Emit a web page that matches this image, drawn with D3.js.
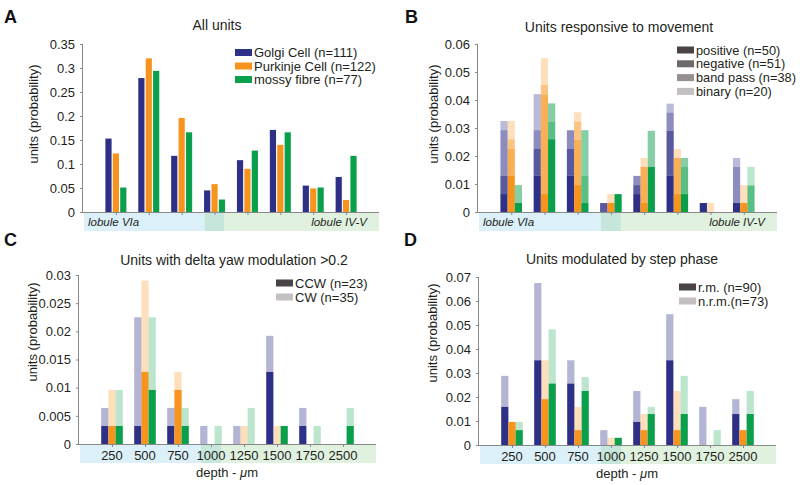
<!DOCTYPE html>
<html><head><meta charset="utf-8">
<script src="https://cdn.jsdelivr.net/npm/d3@7/dist/d3.min.js"></script>
<style>body{margin:0;background:#fff} svg{display:block;font-family:"Liberation Sans",Arial,sans-serif}</style>
</head><body><svg id="c" width="800" height="485"></svg>
<script>
// ---------- data ----------
const depthLabels = ["250","500","750","1000","1250","1500","1750","2500"];
const cellNames = ["Golgi Cell (n=111)","Purkinje Cell (n=122)","mossy fibre (n=77)"];
const cellColors = ["#2e3088","#f7941d","#0aa04b"];

// A: all units
const allGolgi    = [0.153,0.279,0.117,0.045,0.108,0.171,0.055,0.073];
const allPurkinje = [0.122,0.320,0.196,0.058,0.090,0.140,0.049,0.025];
const allMossy    = [0.051,0.294,0.166,0.026,0.128,0.166,0.051,0.117];

// B: responsive to movement (rows: Golgi, Purkinje, mossy)
const movLayerNames = ["positive (n=50)","negative (n=51)","band pass (n=38)","binary (n=20)"];
const movPositive = [
  [0.0064,0.0129,0.0129,0,0.0064,0.0129,0.0032,0.0032],
  [0.0129,0.0064,0.0096,0.0032,0.0032,0.0064,0,0.0032],
  [0.0032,0.0260,0.0032,0.0064,0.0161,0.0064,0,0]];
const movNegative = [
  [0.0065,0.0096,0.0096,0.0032,0.0032,0.0161,0,0],
  [0.0096,0.0356,0.0162,0,0.0129,0.0129,0,0],
  [0,0.0063,0.0097,0,0,0.0097,0,0.0095]];
const movBandPass = [
  [0.0163,0.0067,0.0067,0,0.0033,0.0065,0,0.0129],
  [0.0035,0.0034,0.0065,0,0,0,0,0],
  [0.0064,0.0065,0.0163,0,0.0129,0.0032,0,0]];
const movBinary = [
  [0.0033,0.0129,0,0,0,0.0032,0,0.0032],
  [0.0065,0.0095,0.0033,0.0032,0.0032,0.0032,0.0032,0.0064],
  [0,0,0,0,0,0,0,0.0066]];

// C: delta yaw modulation
const yawLayerNames = ["CCW (n=23)","CW (n=35)"];
const yawCCW = [
  [0.0032,0.0032,0.0032,0,0,0.0128,0.0032,0],
  [0.0032,0.0128,0.0096,0,0,0,0,0],
  [0.0032,0.0096,0.0032,0,0,0.0032,0,0.0032]];
const yawCW = [
  [0.0032,0.0193,0.0032,0.0032,0.0032,0.0064,0.0032,0],
  [0.0064,0.0162,0.0032,0,0.0032,0.0032,0,0],
  [0.0064,0.0129,0.0032,0.0032,0.0064,0,0.0032,0.0032]];

// D: step phase
const stepLayerNames = ["r.m. (n=90)","n.r.m.(n=73)"];
const stepRM = [
  [0.0159,0.0353,0.0256,0,0.0096,0.0353,0,0.0129],
  [0.0096,0.0191,0.0062,0,0.0062,0.0062,0,0.0062],
  [0.0062,0.0256,0.0225,0.0030,0.0129,0.0129,0,0.0129]];
const stepNRM = [
  [0.0129,0.0322,0.0097,0.0062,0.0129,0.0192,0.0159,0.0062],
  [0,0.0162,0.0097,0.0030,0.0067,0.0163,0,0],
  [0.0034,0.0226,0.0058,0,0.0030,0.0159,0.0062,0.0096]];

const ticksA = [0,0.05,0.1,0.15,0.2,0.25,0.3,0.35];
const ticksB = [0,0.01,0.02,0.03,0.04,0.05,0.06];
const ticksC = [0,0.005,0.01,0.015,0.02,0.025,0.03];
const ticksD = [0,0.01,0.02,0.03,0.04,0.05,0.06,0.07];

// ---------- drawing ----------
const svg = d3.select("#c");
const txt = "#231f20";
const fmt = d => String(+d.toFixed(4));

function panel(cfg) {
  const g = svg.append("g");
  const x = d3.scaleLinear().domain([0, 9]).range([cfg.x0, cfg.x1]);
  const y = d3.scaleLinear().domain([0, cfg.yMax]).range([cfg.y0, cfg.yTop]);
  const xc = x(4);
  const bands = [
    {a: cfg.x0 + 1, b: xc - 10, c: "#dcf0f9"},
    {a: xc - 10, b: xc + 10, c: "#c6e6dc"},
    {a: xc + 10, b: cfg.x1, c: "#e0f1df"}];
  g.selectAll("rect.band").data(bands).join("rect")
    .attr("x", d => d.a).attr("width", d => d.b - d.a)
    .attr("y", cfg.y0 + 1).attr("height", 18).attr("fill", d => d.c);

  cfg.layers.forEach((layer, li) => {
    layer.forEach((vals, si) => {
      vals.forEach((v, gi) => {
        if (v <= 0) return;
        let base = 0;
        for (let k = 0; k < li; k++) base += cfg.layers[k][si][gi];
        const cx = x(gi + 1) + (si - 1) * cfg.step;
        g.append("rect")
          .attr("x", cx - cfg.bw / 2).attr("width", cfg.bw)
          .attr("y", y(base + v)).attr("height", y(base) - y(base + v))
          .attr("fill", cellColors[si]).attr("fill-opacity", cfg.op[li][si]);
      });
    });
  });

  const ya = g.append("g").attr("transform", `translate(${cfg.x0},0)`)
    .call(d3.axisLeft(y).tickValues(cfg.ticks).tickFormat(fmt).tickSize(3).tickPadding(5));
  ya.select(".domain").attr("stroke", "#888").attr("d", `M-0.5,${cfg.y0}V${cfg.yTop}`);
  ya.selectAll(".tick line").attr("stroke", "#888");
  ya.selectAll("text").attr("fill", txt).style("font-size", "13px").style("font-family", "Liberation Sans, Arial, sans-serif");

  const xa = g.append("g").attr("transform", `translate(0,${cfg.y0})`)
    .call(d3.axisBottom(x).tickValues(d3.range(1, 9)).tickSize(3).tickFormat(""));
  xa.select(".domain").attr("stroke", "#888").attr("d", `M${cfg.x0},0.5H${cfg.x1}`);
  xa.selectAll(".tick line").attr("stroke", "#888");
  if (cfg.depthTicks) {
    g.selectAll("text.dl").data(depthLabels).join("text")
      .attr("x", (d, i) => x(i + 1)).attr("y", cfg.y0 + 16)
      .attr("text-anchor", "middle").attr("fill", txt).style("font-size", "13px").text(d => d);
    const t = g.append("text").attr("x", cfg.depthX).attr("y", cfg.y0 + 33)
      .attr("text-anchor", "middle").attr("fill", txt).style("font-size", "13px");
    t.append("tspan").text("depth - ");
    t.append("tspan").style("font-style", "italic").text("\u03bc");
    t.append("tspan").text("m");
  } else {
    g.append("text").attr("x", cfg.x0 + 5).attr("y", cfg.y0 + 14).attr("fill", txt)
      .style("font-size", "11.5px").style("font-style", "italic").text("lobule VIa");
    g.append("text").attr("x", cfg.x1 - 12).attr("y", cfg.y0 + 14).attr("fill", txt)
      .attr("text-anchor", "end").style("font-size", "11.5px").style("font-style", "italic").text("lobule IV-V");
  }

  g.append("text").attr("transform", `translate(${cfg.ylx},${cfg.yly}) rotate(-90)`)
    .attr("text-anchor", "middle").attr("dominant-baseline", "central")
    .attr("fill", txt).style("font-size", "13px").text("units (probability)");
  g.append("text").attr("x", cfg.tx).attr("y", cfg.ty).attr("text-anchor", "middle")
    .attr("fill", txt).style("font-size", "14px").text(cfg.title);
  g.append("text").attr("x", cfg.lx).attr("y", cfg.ly).attr("fill", "#111")
    .style("font-size", "18px").style("font-weight", "bold").text(cfg.letter);
  cfg.legend.forEach((d, i) => {
    const yy = cfg.legY + i * cfg.legDy;
    g.append("rect").attr("x", cfg.legX).attr("y", yy - 3.5).attr("width", 17).attr("height", 7).attr("fill", d.c);
    g.append("text").attr("x", cfg.legX + 19).attr("y", yy).attr("dominant-baseline", "central")
      .attr("fill", txt).style("font-size", cfg.legFs + "px").text(d.t);
  });
}

const one = [1, 1, 1];
panel({letter: "A", lx: 4, ly: 23, x0: 83, x1: 379, y0: 212, yTop: 44, yMax: 0.35, ticks: ticksA,
  layers: [[allGolgi, allPurkinje, allMossy]], op: [one], bw: 6.2, step: 7.4,
  title: "All units", tx: 217, ty: 30, ylx: 33, yly: 114,
  legX: 235, legY: 52.5, legDy: 13.5, legFs: 13,
  legend: cellNames.map((t, i) => ({t, c: cellColors[i]}))});

panel({letter: "B", lx: 405, ly: 23, x0: 478, x1: 777, y0: 212, yTop: 44, yMax: 0.06, ticks: ticksB,
  layers: [movPositive, movNegative, movBandPass, movBinary],
  op: [[1,1,1],[0.8,0.75,0.68],[0.55,0.55,0.5],[0.33,0.3,0.28]], bw: 7.2, step: 7.2,
  title: "Units responsive to movement", tx: 619, ty: 32, ylx: 433, yly: 114,
  legX: 677, legY: 50, legDy: 13.8, legFs: 12.8,
  legend: movLayerNames.map((t, i) => ({t, c: ["#4a4446","#6e696a","#958f90","#c4c0c1"][i]}))});

panel({letter: "C", lx: 4, ly: 246, x0: 79, x1: 376, y0: 444, yTop: 275, yMax: 0.03, ticks: ticksC,
  layers: [yawCCW, yawCW], op: [one, [0.36,0.3,0.28]], bw: 7.2, step: 7.2,
  title: "Units with delta yaw modulation >0.2", tx: 234, ty: 265, ylx: 32, yly: 332,
  legX: 276, legY: 283, legDy: 14, legFs: 13,
  depthTicks: true, depthX: 227,
  legend: yawLayerNames.map((t, i) => ({t, c: ["#4a4446","#c4c0c1"][i]}))});

panel({letter: "D", lx: 404, ly: 246, x0: 479, x1: 776, y0: 445, yTop: 277, yMax: 0.07, ticks: ticksD,
  layers: [stepRM, stepNRM], op: [one, [0.36,0.3,0.28]], bw: 7.2, step: 7.2,
  title: "Units modulated by step phase", tx: 622, ty: 264, ylx: 432, yly: 333,
  legX: 679, legY: 287, legDy: 14, legFs: 13,
  depthTicks: true, depthX: 627,
  legend: stepLayerNames.map((t, i) => ({t, c: ["#4a4446","#c4c0c1"][i]}))});
</script></body></html>
